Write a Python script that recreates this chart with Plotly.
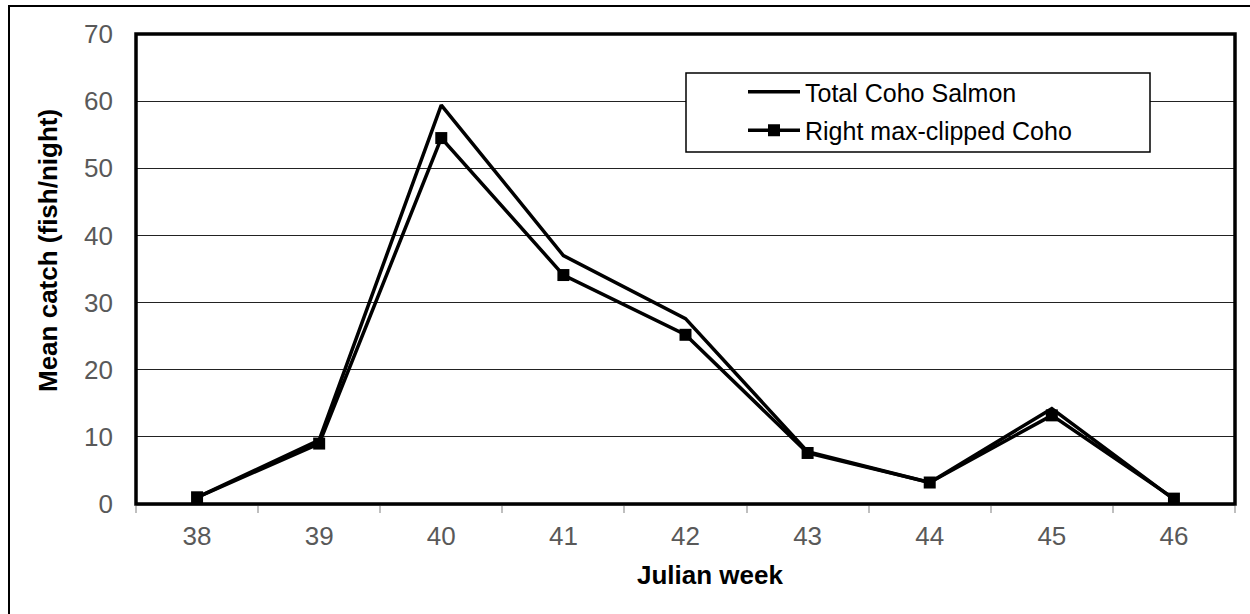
import plotly.graph_objects as go

weeks = ["38", "39", "40", "41", "42", "43", "44", "45", "46"]
total_coho = [1.0, 9.5, 59.4, 37.0, 27.6, 7.8, 3.2, 14.2, 0.7]
clipped_coho = [1.0, 9.0, 54.5, 34.1, 25.2, 7.6, 3.2, 13.2, 0.8]
y_ticks = [0, 10, 20, 30, 40, 50, 60, 70]

W, H = 1250, 614
L, R, T, B = 136, 15, 34, 110
PW, PH = W - L - R, H - T - B


def px(x):
    return (x - L) / PW


def py(y):
    return (H - B - y) / PH


fig = go.Figure()
fig.add_trace(go.Scatter(
    x=weeks, y=total_coho, mode="lines", name="Total Coho Salmon",
    legendgroup="a",
    line=dict(color="black", width=3.5),
))
fig.add_trace(go.Scatter(
    x=weeks, y=clipped_coho, mode="lines+markers", name="Right max-clipped Coho",
    legendgroup="b",
    line=dict(color="black", width=3.5),
    marker=dict(symbol="square", size=12, color="black"),
))

fig.update_layout(
    width=W, height=H,
    margin=dict(l=L, r=R, t=T, b=B),
    paper_bgcolor="white", plot_bgcolor="white",
    font=dict(family="Liberation Sans, Arial, sans-serif", color="#595959", size=26),
    showlegend=True,
    legend=dict(
        x=px(743), y=py(69),
        xanchor="left", yanchor="top",
        bgcolor="rgba(0,0,0,0)", borderwidth=0,
        font=dict(size=25, color="black"),
        itemwidth=52, tracegroupgap=3,
    ),
    xaxis=dict(
        type="category", range=[-0.5, 8.5],
        showgrid=False, zeroline=False,
        showline=True, linecolor="#bfbfbf", linewidth=2,
        ticks="outside", tickson="boundaries", ticklen=7, tickcolor="#bfbfbf", tickwidth=1.5,
        tickfont=dict(size=26, color="#595959"),
        ticklabelstandoff=8,
        fixedrange=True,
    ),
    yaxis=dict(
        range=[0, 70], tickvals=y_ticks,
        showgrid=True, gridcolor="#222222", gridwidth=1.2,
        zeroline=False, showline=False, ticks="",
        tickfont=dict(size=26, color="#595959"),
        ticklabelstandoff=22,
        fixedrange=True,
    ),
    annotations=[
        dict(text="<b>Julian week</b>", xref="paper", yref="paper",
             x=px(710), y=py(575), xanchor="center", yanchor="middle",
             showarrow=False, font=dict(size=26, color="black")),
        dict(text="<b>Mean catch (fish/night)</b>", xref="paper", yref="paper",
             x=px(48), y=py(251), xanchor="center", yanchor="middle", textangle=-90,
             showarrow=False, font=dict(size=26, color="black")),
    ],
    shapes=[
        dict(type="rect", xref="paper", yref="paper", x0=0, x1=1, y0=0, y1=1,
             line=dict(color="black", width=3.5), layer="above"),
        dict(type="rect", xref="paper", yref="paper",
             x0=px(686), x1=px(1150), y0=py(152), y1=py(73),
             fillcolor="white", line=dict(color="black", width=1.5), layer="above"),
        dict(type="rect", xref="paper", yref="paper",
             x0=px(9), x1=px(W + 20), y0=py(H + 20), y1=py(6),
             line=dict(color="black", width=2), layer="below"),
    ],
)

fig.write_html("out.html", config={"displayModeBar": False},
               post_script="document.body.style.margin='0';")
